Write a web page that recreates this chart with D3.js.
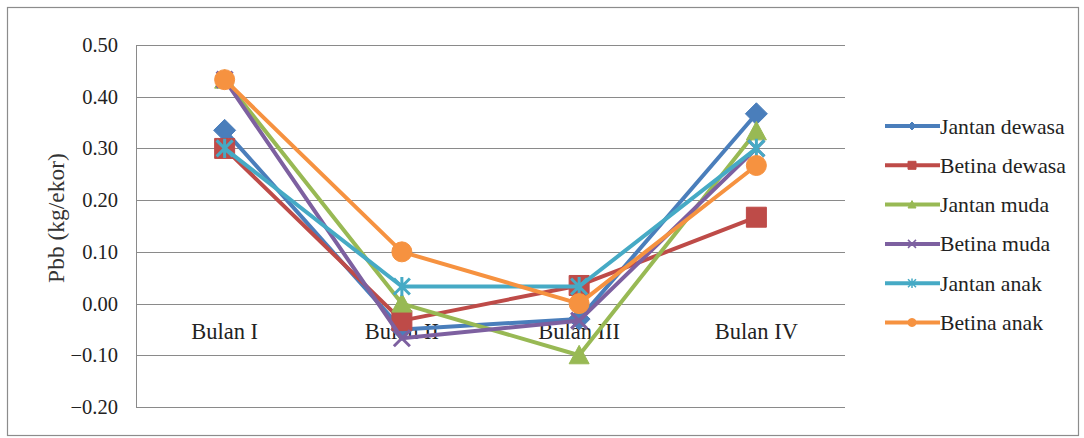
<!DOCTYPE html>
<html><head><meta charset="utf-8">
<script src="https://cdn.jsdelivr.net/npm/d3@7"></script>
<style>body{margin:0;background:#fff;}svg{display:block;font-family:"Liberation Serif","Times New Roman",serif;}</style>
</head><body><svg id="c" width="1084" height="438"></svg>
<script>
const categories = ["Bulan I", "Bulan II", "Bulan III", "Bulan IV"];
const seriesNames = ["Jantan dewasa", "Betina dewasa", "Jantan muda", "Betina muda", "Jantan anak", "Betina anak"];
const jantanDewasa = [0.335, -0.05, -0.03, 0.367];
const betinaDewasa = [0.30, -0.033, 0.035, 0.167];
const jantanMuda = [0.433, 0.00, -0.10, 0.333];
const betinaMuda = [0.433, -0.067, -0.033, 0.30];
const jantanAnak = [0.30, 0.033, 0.033, 0.30];
const betinaAnak = [0.433, 0.10, 0.00, 0.267];
const yTicks = [-0.2, -0.1, 0, 0.1, 0.2, 0.3, 0.4, 0.5];

const seriesValues = [jantanDewasa, betinaDewasa, jantanMuda, betinaMuda, jantanAnak, betinaAnak];
const colors = ["#4A7EBB", "#BE4B48", "#98B954", "#7D60A0", "#46AAC5", "#F69240"];
const symbols = ["diamond", "square", "triangle", "x", "star", "circle"];

const svg = d3.select("#c");
svg.append("rect").attr("x", 7.5).attr("y", 7.5).attr("width", 1071).attr("height", 428)
  .attr("fill", "#fff").attr("stroke", "#8c8c8c").attr("stroke-width", 1.2);

const L = 136, R = 845, T = 45, B = 407;
const x = d3.scaleBand().domain(categories).range([L, R]);
const y = d3.scaleLinear().domain([-0.2, 0.5]).range([B, T]);
const cx = c => x(c) + x.bandwidth() / 2;

// gridlines
svg.append("g").selectAll("line").data(yTicks).join("line")
  .attr("x1", L).attr("x2", R).attr("y1", d => Math.round(y(d)) + 0.5).attr("y2", d => Math.round(y(d)) + 0.5)
  .attr("stroke", "#8a8a8a").attr("stroke-width", 1);
svg.append("line").attr("x1", L + 0.5).attr("x2", L + 0.5).attr("y1", T).attr("y2", B + 0.5)
  .attr("stroke", "#8a8a8a");

const FF = "Liberation Serif, Times New Roman, serif";
// y axis
const yAxis = d3.axisLeft(y).tickValues(yTicks).tickFormat(d3.format(".2f")).tickSize(0).tickPadding(18);
const ya = svg.append("g").attr("transform", `translate(${L},0)`).call(yAxis).attr("font-family", FF);
ya.select(".domain").remove();
ya.selectAll("text").attr("font-size", 20.5).attr("fill", "#222");

// x axis labels at zero
const xAxis = d3.axisBottom(x).tickSize(0).tickPadding(19);
const xa = svg.append("g").attr("transform", `translate(0,${y(0)})`).call(xAxis).attr("font-family", FF);
xa.select(".domain").remove();
xa.selectAll("text").attr("font-size", 22.5).attr("fill", "#222");

// y title
svg.append("text").attr("transform", `translate(64,218) rotate(-90)`).attr("text-anchor", "middle")
  .attr("font-family", FF).attr("font-size", 23.5).attr("fill", "#333").text("Pbb (kg/ekor)");

function markerPath(sym, r) {
  if (sym === "diamond") return `M0,${-r}L${r},0L0,${r}L${-r},0Z`;
  if (sym === "square") return `M${-r},${-r}H${r}V${r}H${-r}Z`;
  if (sym === "triangle") return `M0,${-r}L${r},${r * 0.85}L${-r},${r * 0.85}Z`;
  if (sym === "circle") return d3.symbol(d3.symbolCircle, Math.PI * r * r)();
  if (sym === "x") return `M${-r},${-r}L${r},${r}M${-r},${r}L${r},${-r}`;
  // star: X plus vertical line
  return `M${-r},${-r}L${r},${r}M${-r},${r}L${r},${-r}M0,${-r * 1.2}L0,${r * 1.2}`;
}

const line = d3.line().x((d, i) => cx(categories[i])).y(d => y(d));
const radius = {diamond: 11, square: 10, triangle: 10, circle: 10, x: 8, star: 8};
seriesValues.forEach((vals, s) => {
  const g = svg.append("g");
  g.append("path").attr("d", line(vals)).attr("fill", "none").attr("stroke", colors[s])
    .attr("stroke-width", 4).attr("stroke-linejoin", "round");
  const sym = symbols[s];
  const isLine = sym === "x" || sym === "star";
  g.selectAll("path.m").data(vals).join("path").attr("class", "m")
    .attr("transform", (d, i) => `translate(${cx(categories[i])},${y(d)})`)
    .attr("d", markerPath(sym, radius[sym]))
    .attr("fill", isLine ? "none" : colors[s])
    .attr("stroke", colors[s]).attr("stroke-width", isLine ? 3 : 1);
});

// legend
const lg = svg.append("g");
seriesNames.forEach((name, s) => {
  const ly = 126 + s * 39.3;
  lg.append("line").attr("x1", 885).attr("x2", 940).attr("y1", ly).attr("y2", ly)
    .attr("stroke", colors[s]).attr("stroke-width", 4);
  const sym = symbols[s];
  const isLine = sym === "x" || sym === "star";
  lg.append("path").attr("transform", `translate(912,${ly})`).attr("d", markerPath(sym, 4))
    .attr("fill", isLine ? "none" : colors[s]).attr("stroke", colors[s]).attr("stroke-width", isLine ? 1.5 : 1);
  lg.append("text").attr("x", 940).attr("y", ly).attr("dy", "0.35em").attr("font-size", 21.7)
    .attr("font-family", FF).attr("fill", "#222").text(name);
});
</script></body></html>
